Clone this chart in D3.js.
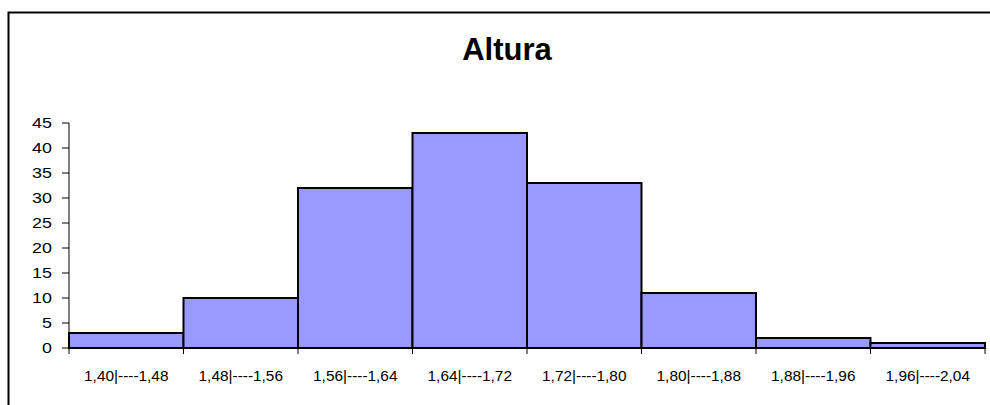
<!DOCTYPE html>
<html><head><meta charset="utf-8">
<script src="https://cdn.jsdelivr.net/npm/d3@7"></script>
<style>body{margin:0;background:#fff}svg{display:block}text{font-family:"Liberation Sans",Arial,sans-serif}</style>
</head><body>
<svg id="c" width="990" height="405"></svg>
<script>
const categories = ["1,40|----1,48","1,48|----1,56","1,56|----1,64","1,64|----1,72","1,72|----1,80","1,80|----1,88","1,88|----1,96","1,96|----2,04"];
const values = [3, 10, 32, 43, 33, 11, 2, 1];
const yTicks = [0, 5, 10, 15, 20, 25, 30, 35, 40, 45];
const title = "Altura";

const svg = d3.select("#c");
const W = 990, H = 405;
svg.append("rect").attr("x", 8.5).attr("y", 12.5).attr("width", W + 20).attr("height", H + 20)
  .attr("fill", "#fff").attr("stroke", "#000").attr("stroke-width", 2);

const m = {left: 69, right: 985, top: 123, bottom: 348};
const x = d3.scaleBand().domain(categories).range([m.left, m.right]).paddingInner(0).paddingOuter(0);
const y = d3.scaleLinear().domain([0, 45]).range([m.bottom, m.top]);

svg.append("text").attr("x", 507).attr("y", 60).attr("text-anchor", "middle")
  .attr("font-size", 31).attr("font-weight", "bold").text(title);

// bars
svg.selectAll("rect.bar").data(values).join("rect").attr("class", "bar")
  .attr("x", (d, i) => x(categories[i]))
  .attr("y", d => y(d))
  .attr("width", x.bandwidth())
  .attr("height", d => y(0) - y(d))
  .attr("fill", "#9999FF").attr("stroke", "#000").attr("stroke-width", 2);

// y axis
const ya = svg.append("g");
ya.append("line").attr("x1", m.left).attr("x2", m.left).attr("y1", y(45)).attr("y2", y(0)).attr("stroke", "#000");
yTicks.forEach(t => {
  ya.append("line").attr("x1", m.left - 7).attr("x2", m.left).attr("y1", y(t)).attr("y2", y(t)).attr("stroke", "#000");
  ya.append("text").attr("transform", `translate(52,${y(t) + 5}) scale(1.28,1)`)
    .attr("text-anchor", "end").attr("font-size", 14).text(t);
});

// x axis
const xa = svg.append("g");
xa.append("line").attr("x1", m.left).attr("x2", m.right).attr("y1", y(0)).attr("y2", y(0)).attr("stroke", "#000").attr("stroke-width", 2);
const bounds = categories.map(c => x(c)).concat([m.right]);
bounds.forEach(b => {
  xa.append("line").attr("x1", b).attr("x2", b).attr("y1", y(0)).attr("y2", y(0) + 6).attr("stroke", "#000");
});
categories.forEach(c => {
  xa.append("text").attr("transform", `translate(${x(c) + x.bandwidth() / 2},381) scale(1.1,1)`)
    .attr("text-anchor", "middle").attr("font-size", 14).text(c);
});
</script>
</body></html>
